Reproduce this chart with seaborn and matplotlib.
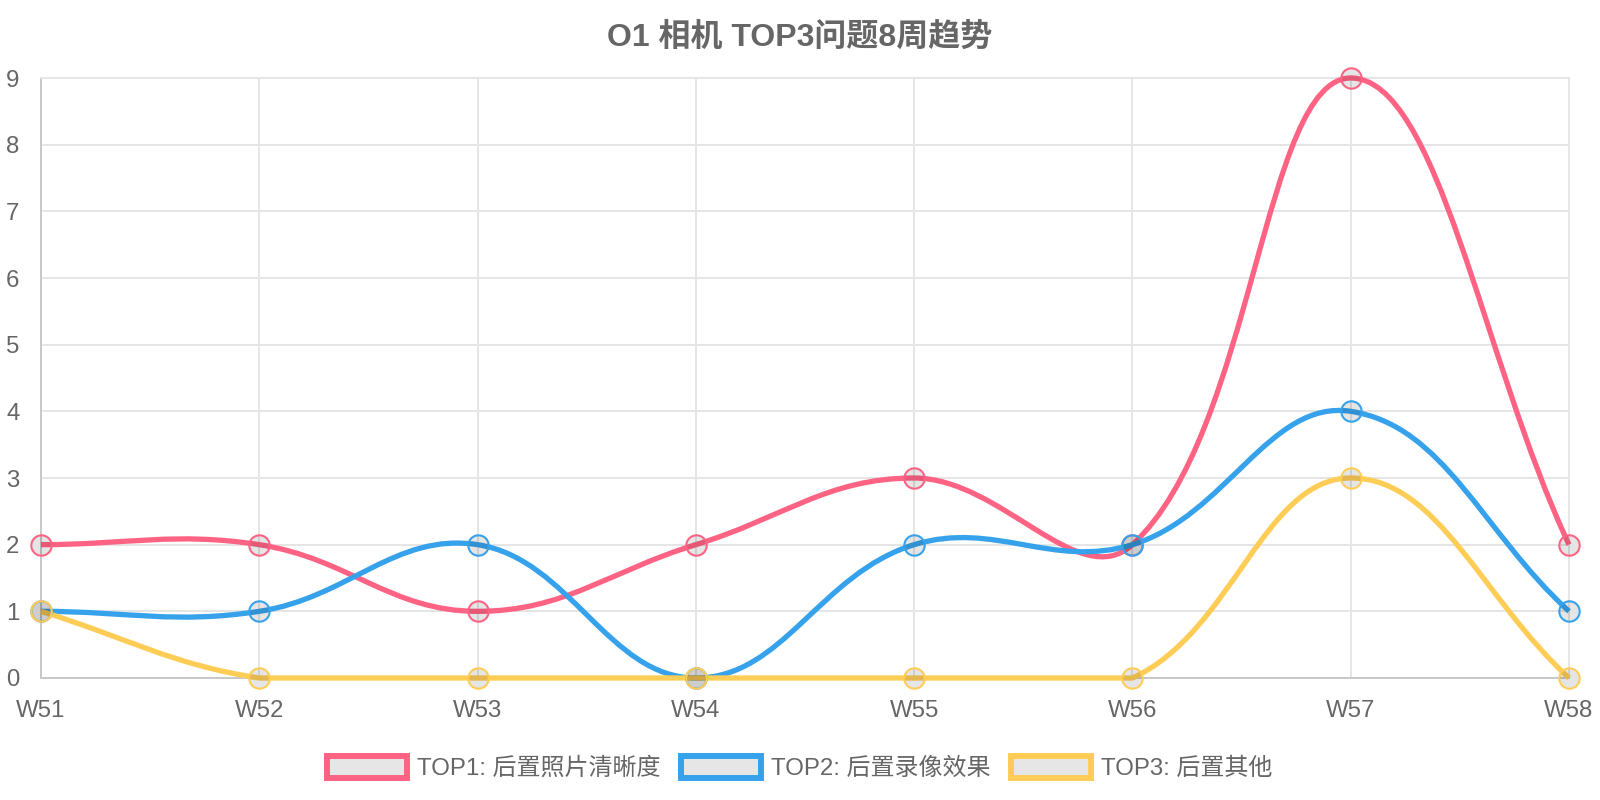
import numpy as np
import pandas as pd
import matplotlib
matplotlib.use('Agg')
import matplotlib.pyplot as plt
from matplotlib.path import Path
from matplotlib.patches import PathPatch, Patch
import seaborn as sns

weeks = ['W51', 'W52', 'W53', 'W54', 'W55', 'W56', 'W57', 'W58']
top1 = [2, 2, 1, 2, 3, 2, 9, 2]
top2 = [1, 1, 2, 0, 2, 2, 4, 1]
top3 = [1, 0, 0, 0, 0, 0, 3, 0]
labels = ['TOP1: 后置照片清晰度', 'TOP2: 后置录像效果', 'TOP3: 后置其他']
colors = ['#ff6384', '#36a2eb', '#ffcd56']
title = 'O1 相机 TOP3问题8周趋势'

df = pd.DataFrame({'week': weeks, labels[0]: top1, labels[1]: top2, labels[2]: top3})

sns.set_theme(style='white')
plt.rcParams['font.family'] = ['Liberation Sans', 'Noto Sans CJK SC', 'DejaVu Sans']

W, H = 1600, 800
fig = plt.figure(figsize=(16, 8), dpi=100)
left, right, top, bottom = 41, 1569, 78, 678
ax = fig.add_axes([left / W, 1 - bottom / H, (right - left) / W, (bottom - top) / H])

grid_c = '#e5e5e5'
axis_c = '#c8c8c8'
txt_c = '#666666'

ax.set_xlim(0, len(weeks) - 1)
ax.set_ylim(0, 9)
ax.set_xticks(range(len(weeks)))
ax.set_xticklabels(weeks)
ax.set_yticks(range(0, 10))
ax.grid(True, color=grid_c, linewidth=1.4, alpha=1)
ax.tick_params(axis='both', color=grid_c, labelcolor=txt_c, labelsize=17.3,
               length=12, width=1.4)
ax.tick_params(axis='y', pad=3.5)
ax.tick_params(axis='x', pad=4)
for side in ['top', 'right']:
    ax.spines[side].set_color(grid_c)
    ax.spines[side].set_linewidth(1.4)
for side in ['left', 'bottom']:
    ax.spines[side].set_color(axis_c)
    ax.spines[side].set_linewidth(1.4)
ax.set_axisbelow(True)


def spline_path(xs, ys, tension=0.4):
    # bezier control points like Chart.js tension curves, computed in pixel space
    pts = ax.transData.transform(np.column_stack([xs, ys]))
    bb = ax.bbox
    n = len(pts)
    cp1, cp2 = [], []
    for i in range(n):
        prev = pts[i - 1] if i > 0 else pts[i]
        cur = pts[i]
        nxt = pts[i + 1] if i < n - 1 else pts[i]
        d01 = np.hypot(*(cur - prev))
        d12 = np.hypot(*(nxt - cur))
        tot = d01 + d12
        s01 = d01 / tot if tot else 0
        s12 = d12 / tot if tot else 0
        a = cur - tension * s01 * (nxt - prev)
        b = cur + tension * s12 * (nxt - prev)
        for c in (a, b):
            c[0] = min(max(c[0], bb.x0), bb.x1)
            c[1] = min(max(c[1], bb.y0), bb.y1)
        cp1.append(a)
        cp2.append(b)
    verts = [pts[0]]
    codes = [Path.MOVETO]
    for i in range(n - 1):
        verts += [cp2[i], cp1[i + 1], pts[i + 1]]
        codes += [Path.CURVE4] * 3
    verts = ax.transData.inverted().transform(np.array(verts))
    return Path(verts, codes)


xs = np.arange(len(weeks))
for lab, col in zip(labels, colors):
    ys = df[lab].to_numpy(dtype=float)
    patch = PathPatch(spline_path(xs, ys), fill=False, edgecolor=col, linewidth=3.8,
                      capstyle='butt', joinstyle='round', zorder=3, clip_on=False)
    ax.add_patch(patch)
    ax.scatter(xs, ys, s=215, facecolors=[(0, 0, 0, 0.1)], edgecolors=col,
               linewidths=1.5, zorder=4, clip_on=False)

fig.text(0.5, 1 - 38 / H, title, ha='center', va='center', fontsize=23,
         fontweight='bold', color=txt_c)

handles = [Patch(facecolor='#e6e6e6', edgecolor=c, linewidth=4.3) for c in colors]
fig.legend(handles, labels, loc='center', bbox_to_anchor=(0.5, 1 - 768 / H), ncol=3,
           frameon=False, fontsize=17.3, labelcolor=txt_c, handlelength=3.3,
           handleheight=1.0, handletextpad=0.45, columnspacing=0.85)

fig.savefig('out.png', dpi=100)
